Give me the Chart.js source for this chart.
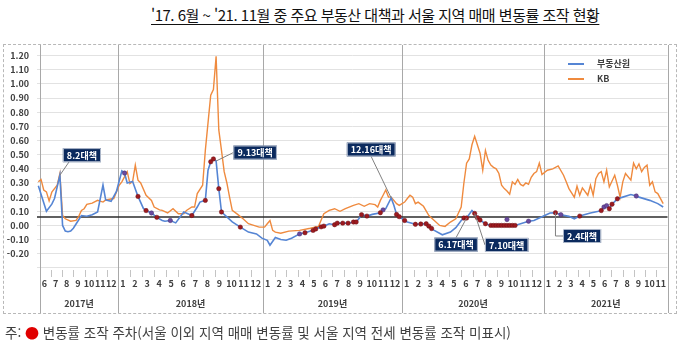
<!DOCTYPE html>
<html lang="ko">
<head>
<meta charset="utf-8">
<title>주요 부동산 대책과 서울 지역 매매 변동률</title>
<script src="https://cdn.jsdelivr.net/npm/chart.js@4.4.1/dist/chart.umd.min.js"></script>
<style>
  html, body { margin: 0; padding: 0; background: #fff; }
  body { width: 680px; height: 349px; position: relative; overflow: hidden;
         font-family: "Noto Sans CJK KR", "Noto Sans", sans-serif; }
  #title { position: absolute; left: 151px; top: 4px; font-size: 15px; color: #111;
           text-decoration: underline; text-underline-offset: 3px; white-space: nowrap; letter-spacing: -0.5px; }
  #chart { position: absolute; left: 0; top: 0; }
  #frame { position: absolute; left: 3px; top: 44px; width: 674px; height: 270px; box-sizing: border-box;
           border: 1px dashed #b8b8b8; pointer-events: none; }
  #note { position: absolute; left: 5px; top: 322px; font-size: 13.5px; color: #404040; white-space: nowrap; }
  #note .dot { color: #e00000; font-size: 14px; }
</style>
</head>
<body>
<div id="title">'17. 6월 ~ '21. 11월 중 주요 부동산 대책과 서울 지역 매매 변동률 조작 현황</div>
<canvas id="chart" width="680" height="320"></canvas>
<div id="frame"></div>
<div id="note">주: <span class="dot">●</span> 변동률 조작 주차(서울 이외 지역 매매 변동률 및 서울 지역 전세 변동률 조작 미표시)</div>

<script>
// weeks counted from the first week of June 2017
const rebWeeks = [0,3,5,6,8,9,10,11,12,13,14,16,18,20,22,24,25,27,29,31,32,33,35,37,39,40,42,44,46,47,49,51,54,57,59,60,
  62,63,64,65,66,67,68,70,72,75,78,81,83,85,86,88,90,92,94,97,99,102,103,105,106,108,110,111,113,115,117,118,119,120,
  122,124,127,128,129,131,132,133,134,136,137,140,142,144,145,146,147,150,153,155,157,158,159,161,162,163,164,166,
  168,169,170,171,172,173,174,175,176,177,182,184,188,190,192,194,197,199,201,205,208,209,210,211,212,213,215,217,
  220,222,223,227,230,232];
const rebRates = [0.28,0.10,0.15,0.19,0.355,0.0,-0.04,-0.045,-0.04,-0.02,0.01,0.07,0.065,0.075,0.095,0.285,0.18,0.17,
  0.24,0.385,0.37,0.30,0.31,0.205,0.12,0.105,0.088,0.057,0.035,0.03,0.035,0.018,0.095,0.07,0.13,0.165,
  0.177,0.39,0.45,0.47,0.455,0.26,0.095,0.06,0.025,-0.012,-0.047,-0.06,-0.09,-0.105,-0.14,-0.085,-0.10,-0.105,-0.09,
  -0.06,-0.052,-0.035,-0.025,-0.01,-0.005,0.012,0.005,0.016,0.016,0.016,0.024,0.024,0.047,0.076,
  0.066,0.078,0.09,0.11,0.118,0.194,0.142,0.078,0.062,0.035,0.024,0.008,0.01,0.012,-0.005,-0.022,-0.035,-0.066,-0.047,
  -0.016,0.035,0.052,0.052,0.106,0.085,0.055,0.038,0.012,
  0,0,0,0,0,0,0,0,0,0,0.03,0.035,0.07,0.088,0.09,0.076,0.064,0.047,0.066,0.088,0.10,0.105,0.13,0.14,0.118,0.15,0.188,0.20,
  0.218,0.208,0.20,0.177,0.154,0.13];

const kbWeeks = [0,1,2,3,4,5,7,8,9,10,12,14,15,16,17,18,20,22,24,25,28,30,31,33,34,35,36,37,38,40,42,43,45,46,48,50,52,
  54,55,57,58,59,61,62,64,65,66,67,68,69,70,71,72,74,76,78,80,82,84,85,86,87,88,90,93,97,101,104,106,108,110,112,114,
  117,119,121,123,125,126,127,128,129,130,131,133,134,136,137,138,139,140,141,143,145,147,149,151,153,155,157,158,159,
  160,161,162,163,164,165,166,167,168,169,170,171,172,173,174,175,176,177,178,179,180,181,182,183,184,185,186,187,189,
  191,193,195,196,197,199,200,201,202,204,205,206,207,208,209,210,211,212,214,215,216,217,218,220,221,222,223,224,225,
  226,227,228,229,230,232];
const kbRates = [0.308,0.325,0.25,0.237,0.173,0.235,0.284,0.367,0.07,0.047,0.03,0.035,0.064,0.106,0.118,0.149,0.158,
  0.177,0.165,0.18,0.19,0.284,0.308,0.38,0.296,0.31,0.426,0.32,0.30,0.213,0.177,0.13,0.11,0.106,0.088,0.118,0.083,
  0.083,0.106,0.13,0.13,0.225,0.284,0.53,0.92,0.96,1.195,0.675,0.53,0.38,0.30,0.20,0.106,0.078,0.047,0.012,0,-0.012,
  -0.012,0.012,0.035,-0.035,-0.047,-0.055,-0.04,-0.035,-0.02,-0.007,0.083,0.106,0.118,0.10,0.118,
  0.142,0.154,0.135,0.154,0.147,0.13,0.177,0.213,0.25,0.20,0.20,0.154,0.142,0.165,0.19,0.213,0.20,0.154,0.165,0.135,
  0.07,0.035,0,-0.007,0.024,0.047,0.13,0.30,0.44,
  0.47,0.57,0.63,0.57,0.51,0.39,0.53,0.46,0.426,0.41,0.40,0.367,0.284,0.26,0.243,0.22,0.308,0.29,0.325,0.29,0.28,0.30,
  0.29,0.34,0.367,0.38,0.44,0.36,0.39,
  0.40,0.42,0.355,0.308,0.26,0.20,0.277,0.213,0.265,0.213,0.284,0.213,0.33,0.367,0.38,0.308,0.39,0.272,0.355,0.284,
  0.20,0.308,0.367,0.32,0.44,0.40,0.435,0.38,0.41,
  0.426,0.284,0.308,0.237,0.225,0.154];

// weeks flagged as manipulated (red) and the other markers (purple)
const redWeeks = [37,40,44,57,62,64,65,67,68,75,99,102,103,105,106,110,111,113,115,117,118,120,122,127,133,134,136,
  140,142,144,145,146,158,159,162,163,164,166,168,169,170,171,172,173,174,175,176,177,192,201,209,212,213,215];
const purpleWeeks = [32,42,49,97,128,174,182,194,210,211,222];
const purpleRates = [0.37,0.088,0.035,-0.06,0.11,0.042,0.03,0.076,0.13,0.14,0.208];

const policyLabels = ['8.2대책','9.13대책','12.16대책','6.17대책','7.10대책','2.4대책'];
const policyWeeks = [8,66,131,159,162,192];

const yearLabels = ['2017년','2018년','2019년','2020년','2021년'];
const yearStartWeeks = [0.6,29.6,83.4,135.0,187.7];
const yearFirstMonth = [6,1,1,1,1];
const yearLastMonth = [12,12,12,12,11];
const axisEndWeek = 233.6;
const refLevel = 0.06;

const BLUE = '#5585d4', ORANGE = '#ef8a3e';

const rebAt = w => rebRates[rebWeeks.indexOf(w)];
const toXY = (ws, vs) => ws.map((w, i) => ({ x: w, y: vs[i] }));

const yearEdges = [...yearStartWeeks, axisEndWeek];
const monthTicks = [], monthEdges = [];
yearLabels.forEach((_, i) => {
  const n = yearLastMonth[i] - yearFirstMonth[i] + 1;
  const span = (yearEdges[i + 1] - yearEdges[i]) / n;
  for (let k = 0; k < n; k++) {
    monthTicks.push({ pos: yearEdges[i] + (k + 0.4) * span, label: String(yearFirstMonth[i] + k) });
    if (k > 0) monthEdges.push(yearEdges[i] + k * span);
  }
});
const yearCenters = yearLabels.map((_, i) => (yearEdges[i] + yearEdges[i + 1]) / 2);

const yTicks = [];
for (let k = -30; k <= 125; k += 5) yTicks.push(k / 100);

// box centre offset from the anchor point, and how the leader is drawn
const calloutLayout = [
  { dx: 22, dy: -20, leader: 'bottomLeft' },
  { dx: 39, dy: -8.5, leader: 'left' },
  { dx: -20, dy: -48.5, leader: 'bottom' },
  { dx: -10.5, dy: 26.5, leader: 'top' },
  { dx: 32, dy: 31.5, leader: 'left' },
  { dx: 26.6, dy: 23.3, leader: 'elbow' }
];

const framePlugin = {
  id: 'framePlugin',
  beforeDatasetsDraw(chart) {
    const { ctx, chartArea: a, scales: { x, y } } = chart;
    ctx.save();
    ctx.strokeStyle = '#a8a8a8';
    ctx.lineWidth = 1;
    yearEdges.forEach(w => {
      const px = Math.round(x.getPixelForValue(w)) + 0.5;
      ctx.beginPath(); ctx.moveTo(px, a.top); ctx.lineTo(px, 313); ctx.stroke();
    });
    ctx.strokeStyle = '#c4c4c4';
    monthEdges.forEach(w => {
      const px = Math.round(x.getPixelForValue(w)) + 0.5;
      ctx.beginPath(); ctx.moveTo(px, a.bottom); ctx.lineTo(px, a.bottom + 7); ctx.stroke();
    });
    const ry = y.getPixelForValue(refLevel);
    ctx.strokeStyle = '#2b2b2b';
    ctx.lineWidth = 1.4;
    ctx.beginPath(); ctx.moveTo(a.left, ry); ctx.lineTo(a.right, ry); ctx.stroke();
    ctx.restore();
  },
  afterDatasetsDraw(chart) {
    const { ctx, scales: { x, y } } = chart;
    ctx.save();
    // legend
    const items = chart.data.datasets.filter(d => d.inLegend);
    ctx.font = 'bold 9px "Noto Sans CJK KR", sans-serif';
    ctx.textBaseline = 'middle';
    items.forEach((d, i) => {
      const ly = 64 + i * 15;
      ctx.strokeStyle = d.borderColor; ctx.lineWidth = 2;
      ctx.beginPath(); ctx.moveTo(568, ly); ctx.lineTo(584, ly); ctx.stroke();
      ctx.fillStyle = '#404040';
      ctx.fillText(d.label, 597, ly);
    });
    // policy callouts
    ctx.textAlign = 'center';
    policyLabels.forEach((label, i) => {
      const lay = calloutLayout[i];
      const ax = x.getPixelForValue(policyWeeks[i]);
      const ay = y.getPixelForValue(rebAt(policyWeeks[i]));
      const w = ctx.measureText(label).width + 8, h = 14;
      const cx = ax + lay.dx, cy = ay + lay.dy;
      const left = cx - w / 2, top = cy - h / 2;
      ctx.strokeStyle = '#808080'; ctx.lineWidth = 1;
      ctx.beginPath(); ctx.moveTo(ax, ay);
      if (lay.leader === 'bottomLeft') ctx.lineTo(left + 6, top + h);
      else if (lay.leader === 'left') ctx.lineTo(left, cy);
      else if (lay.leader === 'bottom') ctx.lineTo(cx, top + h);
      else if (lay.leader === 'top') ctx.lineTo(cx, top);
      else { ctx.lineTo(ax, cy); ctx.lineTo(left, cy); }
      ctx.stroke();
      ctx.fillStyle = '#0b2a5e';
      ctx.fillRect(left, top, w, h);
      ctx.strokeStyle = '#d0d6e2'; ctx.lineWidth = 0.8;
      ctx.strokeRect(left + 0.5, top + 0.5, w - 1, h - 1);
      ctx.fillStyle = '#ffffff';
      ctx.fillText(label, cx, cy + 0.5);
    });
    ctx.restore();
  }
};

Chart.defaults.font.family = '"Noto Sans CJK KR", "Noto Sans", sans-serif';

new Chart(document.getElementById('chart'), {
  type: 'line',
  data: {
    datasets: [
      { label: '조작 주차', data: toXY(redWeeks, redWeeks.map(rebAt)), showLine: false, pointRadius: 2.2,
        pointBackgroundColor: '#9c1a1f', pointBorderColor: '#6e1014', pointBorderWidth: 0.5 },
      { label: '기타', data: toXY(purpleWeeks, purpleRates), showLine: false, pointRadius: 2.2,
        pointBackgroundColor: '#6a4a9e', pointBorderColor: '#472f70', pointBorderWidth: 0.5 },
      { label: '부동산원', inLegend: true, data: toXY(rebWeeks, rebRates), borderColor: BLUE, borderWidth: 1.6,
        pointRadius: 0, tension: 0 },
      { label: 'KB', inLegend: true, data: toXY(kbWeeks, kbRates), borderColor: ORANGE, borderWidth: 1.4,
        pointRadius: 0, tension: 0 }
    ]
  },
  options: {
    responsive: false,
    animation: false,
    devicePixelRatio: 1,
    layout: { padding: { top: 45, left: 0, right: 12.5, bottom: 9 } },
    plugins: { legend: { display: false }, tooltip: { enabled: false } },
    scales: {
      x: {
        type: 'linear', min: -0.5, max: axisEndWeek,
        grid: { display: false, drawTicks: false }, border: { display: false },
        afterBuildTicks: s => { s.ticks = monthTicks.map(t => ({ value: t.pos })); },
        afterFit: s => { s.height = 21; },
        ticks: { autoSkip: false, maxRotation: 0, padding: 8, color: '#404040', font: { size: 9, weight: 'bold' },
                 callback: (v, i) => monthTicks[i] ? monthTicks[i].label : '' }
      },
      x2: {
        type: 'linear', position: 'bottom', min: -0.5, max: axisEndWeek,
        grid: { display: false, drawTicks: false }, border: { display: false },
        afterBuildTicks: s => { s.ticks = yearCenters.map(v => ({ value: v })); },
        afterFit: s => { s.height = 20; },
        ticks: { autoSkip: false, maxRotation: 0, padding: 7, color: '#404040', font: { size: 9, weight: 'bold' },
                 callback: (v, i) => yearLabels[i] }
      },
      y: {
        min: -0.315, max: 1.275,
        border: { display: false },
        grid: { color: '#e2e2e2', lineWidth: 1, drawTicks: false },
        afterBuildTicks: s => { s.ticks = yTicks.map(v => ({ value: v })); },
        afterFit: s => { s.width = 37; },
        ticks: { padding: 8, color: '#404040', font: { size: 9, weight: 'bold' },
                 callback: v => {
                   const c = Math.round(v * 100);
                   return (c % 10 === 0 && c >= -20 && c <= 120) ? (c / 100).toFixed(2) : '';
                 } }
      }
    }
  },
  plugins: [framePlugin]
});
</script>
</body>
</html>
